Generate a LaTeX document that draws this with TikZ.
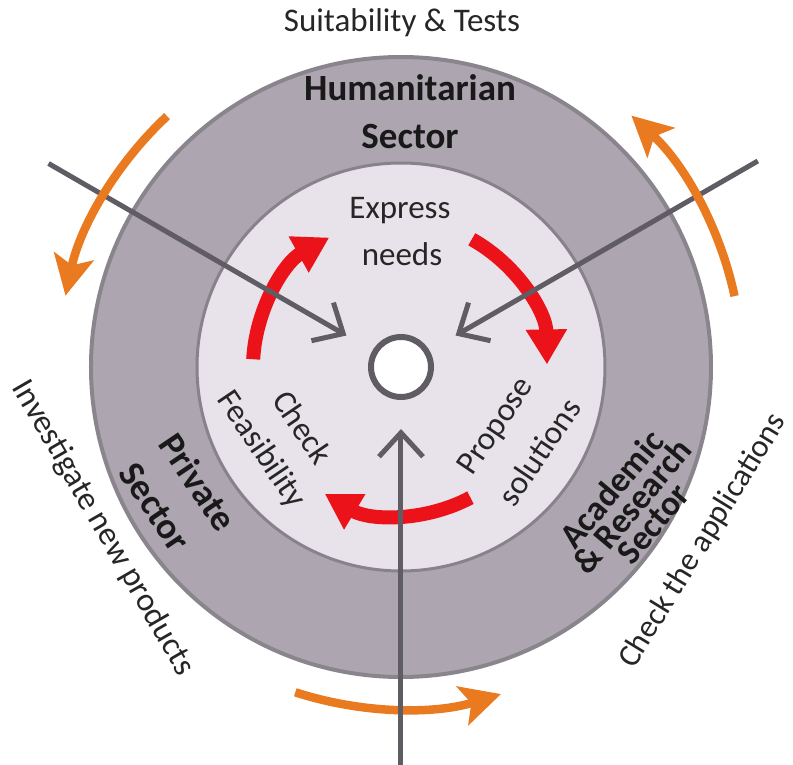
\documentclass[tikz,border=0pt]{standalone}
\usepackage{fontspec}
\setmainfont{Carlito}
\usetikzlibrary{arrows.meta}
\definecolor{ringfill}{RGB}{173,166,177}
\definecolor{ringline}{RGB}{138,133,141}
\definecolor{innerfill}{RGB}{232,227,234}
\definecolor{innerline}{RGB}{136,131,139}
\definecolor{darkline}{RGB}{96,92,99}
\definecolor{redarrow}{RGB}{236,18,26}
\definecolor{orangearrow}{RGB}{234,122,32}
\begin{document}
\begin{tikzpicture}[x=1pt,y=1pt,
  regtxt/.style={font=\fontsize{33}{40}\selectfont, text=black!85, inner sep=0pt},
  boldtxt/.style={font=\fontsize{37}{48}\selectfont\bfseries, text=black!90, inner sep=0pt},
  redarr/.style={draw=redarrow, line width=14pt, -{Triangle[length=35pt,width=39pt]}},
  orangearr/.style={draw=orangearrow, line width=8.5pt, -{Stealth[length=40pt,width=40pt,inset=9pt]}},
  grayarr/.style={draw=darkline, line width=5pt, -{Straight Barb[length=24pt,width=44pt]}}
]
\useasboundingbox (-401,-397) rectangle (392,367);

% discs
\node[circle, draw=ringline, line width=4pt, fill=ringfill, minimum size=620pt, inner sep=0pt] (outer) at (0,0) {};
\node[circle, draw=innerline, line width=3pt, fill=innerfill, minimum size=408pt, inner sep=0pt] (inner) at (0,0) {};
\node[circle, draw=darkline, line width=6pt, fill=white, minimum size=60pt, inner sep=0pt] (hub) at (0,0) {};

% red cycle arrows
\coordinate (r1s) at (177:148pt);
\coordinate (r2s) at (61:146pt);
\coordinate (r3s) at (-62:148pt);
\draw[redarr] (r1s) arc[start angle=177, end angle=119, radius=148pt];
\draw[redarr] (r2s) arc[start angle=61, end angle=1, radius=146pt];
\draw[redarr] (r3s) arc[start angle=-62, end angle=-121, radius=148pt];

% bottom orange arrow
\coordinate (o3s) at (-108:342pt);
\draw[orangearr] (o3s) arc[start angle=-108, end angle=-73, radius=342pt];

% gray arrows into the hub
\coordinate (g1s) at (150:407pt);
\coordinate (g1e) at (150:63pt);
\coordinate (g2s) at (30:412pt);
\coordinate (g2e) at (30:63pt);
\coordinate (g3s) at (-90:410pt);
\coordinate (g3e) at (-90:62pt);
\draw[grayarr] (g1s) -- (g1e);
\draw[grayarr] (g2s) -- (g2e);
\draw[grayarr] (g3s) -- (g3e);

% upper orange arrows
\coordinate (o1s) at (133:343pt);
\coordinate (o2s) at (12:341pt);
\draw[orangearr] (o1s) arc[start angle=133, end angle=168, radius=343pt];
\draw[orangearr] (o2s) arc[start angle=12, end angle=47.5, radius=341pt];

% texts
\node[regtxt, anchor=base] (suit) at (1,335) {Suitability \& Tests};
\node[boldtxt, anchor=base] (hum) at (9,267) {Humanitarian};
\node[boldtxt, anchor=base] (humsec) at (9,219) {Sector};
\node[regtxt, anchor=base] (expr) at (-1,149) {Express};
\node[regtxt, anchor=base] (needs) at (1,102) {needs};

\node[regtxt, rotate=-56] (check) at (-98,-60) {Check};
\node[regtxt, rotate=-56] (feas) at (-140,-83) {Feasibility};
\node[regtxt, rotate=56] (prop) at (96,-60) {Propose};
\node[regtxt, rotate=56] (sol) at (138,-85) {solutions};

\node[boldtxt, rotate=-56] (priv) at (-203,-115) {Private};
\node[boldtxt, rotate=-56] (privsec) at (-246,-140) {Sector};
\node[boldtxt, rotate=50, align=center, font=\fontsize{35}{27}\selectfont\bfseries] (acad) at (231,-139) {Academic\\\& Research\\Sector};

\node[regtxt, rotate=-60] (invest) at (-298,-161) {Investigate new products};
\node[regtxt, rotate=58.5, font=\fontsize{32}{40}\selectfont] (checkapp) at (302,-174) {Check the applications};
\end{tikzpicture}
\end{document}
